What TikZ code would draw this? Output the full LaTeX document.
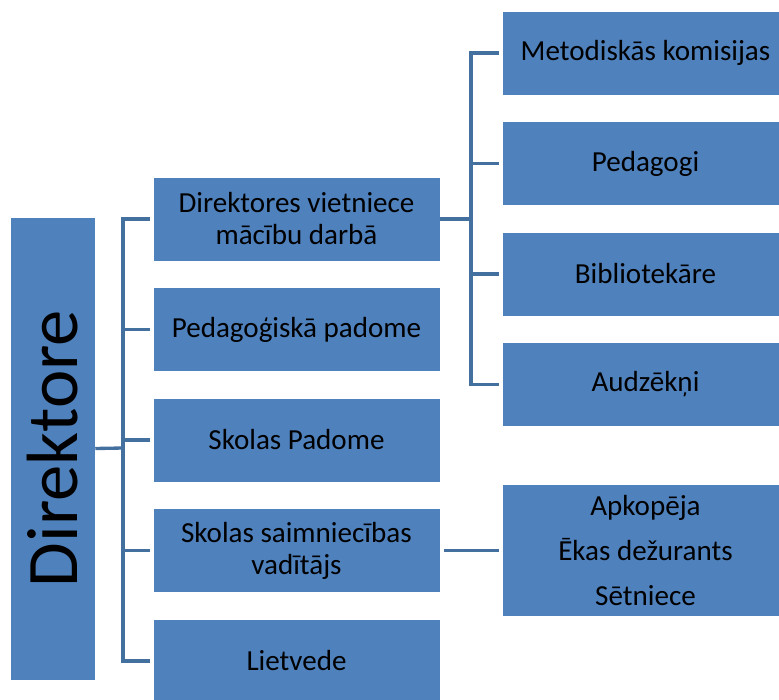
\documentclass[tikz,border=0pt]{standalone}
\usepackage{fontspec}
\setmainfont{Carlito}
\usepackage{tikz}
\usetikzlibrary{positioning}
\definecolor{boxblue}{HTML}{4F81BD}
\definecolor{lineblue}{HTML}{44709F}

\begin{document}
\begin{tikzpicture}[x=0.75pt,y=-0.75pt]
\tikzstyle{unit}=[rectangle,fill=boxblue,draw=white,line width=.4pt,text=black,align=center,
  minimum width=215.25pt,minimum height=63pt,inner sep=0pt,font=\fontsize{21.8}{24}\selectfont]
\tikzstyle{link}=[draw=lineblue,line width=2.5pt,shorten >=2.25pt]
  \useasboundingbox (0,0) rectangle (779,700);
  \clip (0,0) rectangle (779,700);
    \node[unit,minimum width=63.75pt,minimum height=347.25pt] (dir) at (52.5,448.5)
      {\rotatebox{90}{\fontsize{54.5}{60}\selectfont Direktore}};
    \node[unit] (m1) at (296.5,219)   {Direktores vietniece\\mācību darbā};
    \node[unit] (m2) at (296.5,329.5) {Pedagoģiskā padome};
    \node[unit] (m3) at (296.5,440)   {Skolas Padome};
    \node[unit] (m4) at (296.5,550.5) {Skolas saimniecības\\vadītājs};
    \node[unit] (m5) at (296.5,661)   {Lietvede};
    \node[unit] (r1) at (645.5,53)    {Metodiskās komisijas};
    \node[unit] (r2) at (645.5,163.5) {Pedagogi};
    \node[unit] (r3) at (645.5,274)   {Bibliotekāre};
    \node[unit] (r4) at (645.5,384.5) {Audzēkņi};
    \node[unit,minimum height=99pt,font=\fontsize{21.8}{33.4}\selectfont] (r5) at (645.5,550.5)
      {Apkopēja\\Ēkas dežurants\\Sētniece};
    \coordinate (lb) at (123,448);
    \coordinate (rb) at (471,219);
    \draw[link,shorten >=0pt] (dir.east) -- (lb);
    \draw[link] (lb) |- (m1.west);
    \draw[link] (lb) |- (m2.west);
    \draw[link] (lb) |- (m3.west);
    \draw[link] (lb) |- (m4.west);
    \draw[link] (lb) |- (m5.west);
    \draw[link,shorten >=0pt] (m1.east) -- (rb);
    \draw[link] (rb) |- (r1.west);
    \draw[link] (rb) |- (r2.west);
    \draw[link] (rb) |- (r3.west);
    \draw[link] (rb) |- (r4.west);
    \draw[link,shorten <=3pt] (m4.east) -- (r5.west);
\end{tikzpicture}
\end{document}
